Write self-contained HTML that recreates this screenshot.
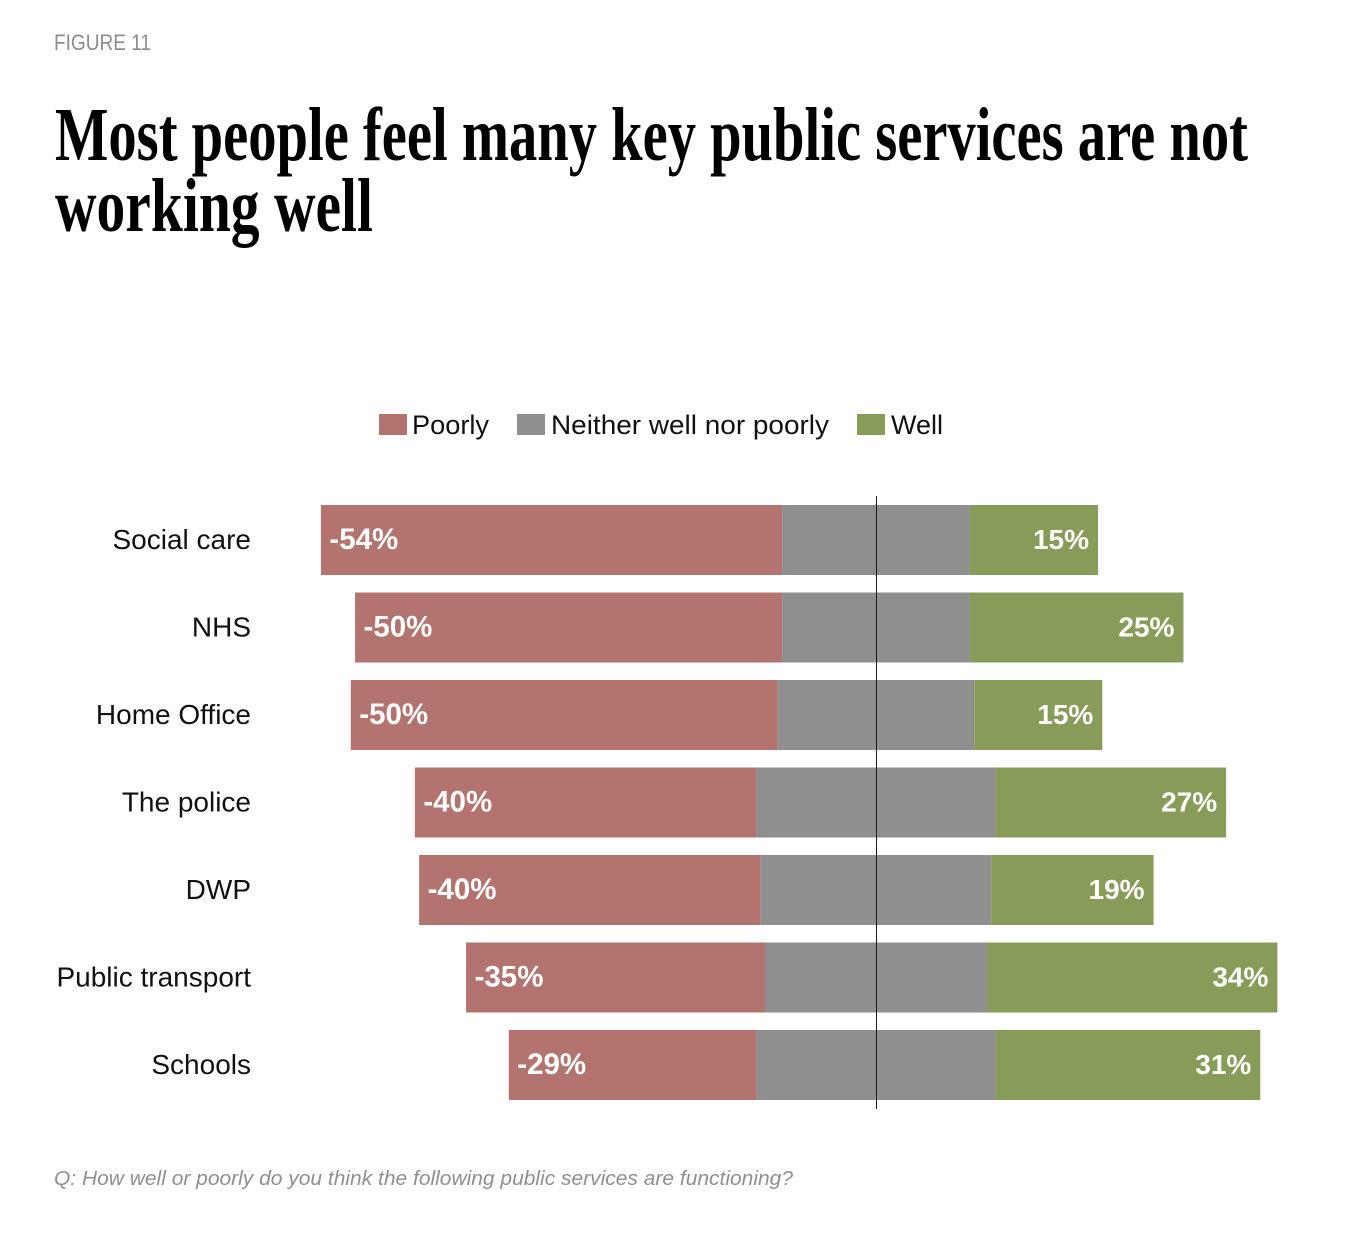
<!DOCTYPE html>
<html lang="en">
<head>
<meta charset="utf-8">
<title>Figure 11</title>
<style>
html,body{margin:0;padding:0;background:#fff;}
svg{display:block;}
</style>
</head>
<body>
<svg id="chart" width="1370" height="1244" viewBox="0 0 1370 1244" xmlns="http://www.w3.org/2000/svg" font-family="'Liberation Sans', sans-serif">
  <rect width="1370" height="1244" fill="#ffffff"/>
  <text x="54" y="50" font-size="22" fill="#8c8c8c" textLength="97" lengthAdjust="spacingAndGlyphs">FIGURE 11</text>
  <text x="55" y="160" font-family="'Liberation Serif', serif" font-weight="bold" font-size="76" fill="#000000" textLength="1193" lengthAdjust="spacingAndGlyphs">Most people feel many key public services are not</text>
  <text x="55" y="231" font-family="'Liberation Serif', serif" font-weight="bold" font-size="76" fill="#000000" textLength="318" lengthAdjust="spacingAndGlyphs">working well</text>

  <g>
    <rect x="379" y="414" width="28" height="21" fill="#b3746f"/>
    <text x="412" y="434" font-size="27" fill="#111111" textLength="77" lengthAdjust="spacingAndGlyphs">Poorly</text>
    <rect x="517" y="414" width="28" height="21" fill="#8f8f8f"/>
    <text x="551" y="434" font-size="27" fill="#111111" textLength="278" lengthAdjust="spacingAndGlyphs">Neither well nor poorly</text>
    <rect x="857" y="414" width="28" height="21" fill="#879c58"/>
    <text x="891" y="434" font-size="27" fill="#111111" textLength="52" lengthAdjust="spacingAndGlyphs">Well</text>
  </g>

  <g id="rows"></g>

  <text x="54" y="1185" font-size="20" font-style="italic" fill="#8f8f8f" textLength="739" lengthAdjust="spacingAndGlyphs">Q: How well or poorly do you think the following public services are functioning?</text>
</svg>

<script>
const categories = ["Social care", "NHS", "Home Office", "The police", "DWP", "Public transport", "Schools"];
const poorly = [54, 50, 50, 40, 40, 35, 29];
const neither = [22, 22, 23, 28, 27, 26, 28];
const well = [15, 25, 15, 27, 19, 34, 31];

const NS = "http://www.w3.org/2000/svg";
const svg = document.getElementById("chart");
const rows = document.getElementById("rows");

const centerX = 876;
const pxPerPct = 8.54;
const firstRowTop = 505;
const rowStep = 87.5;
const barHeight = 70;

function xScale(v) { return centerX + v * pxPerPct; }
function yScale(i) { return firstRowTop + i * rowStep; }

function makeRect(x, y, w, h, fill) {
  const r = document.createElementNS(NS, "rect");
  r.setAttribute("x", x);
  r.setAttribute("y", y);
  r.setAttribute("width", w);
  r.setAttribute("height", h);
  r.setAttribute("fill", fill);
  return r;
}

function makeText(x, y, str, size, fill, anchor, weight) {
  const t = document.createElementNS(NS, "text");
  t.setAttribute("x", x);
  t.setAttribute("y", y);
  t.setAttribute("font-size", size);
  t.setAttribute("fill", fill);
  t.setAttribute("text-anchor", anchor);
  t.setAttribute("font-weight", weight);
  t.textContent = str;
  return t;
}

categories.forEach(function (cat, i) {
  const y = yScale(i);
  const mid = y + barHeight / 2 + 9;
  const nLeft = xScale(-neither[i] / 2);
  const nRight = xScale(neither[i] / 2);
  const pLeft = nLeft - poorly[i] * pxPerPct;
  const wRight = nRight + well[i] * pxPerPct;

  const label = makeText(251, mid, cat, 28, "#111111", "end", "normal");
  
  
  rows.appendChild(label);

  const barP = makeRect(pLeft, y, nLeft - pLeft, barHeight, "#b3746f");
  
  
  rows.appendChild(barP);

  const barN = makeRect(nLeft, y, nRight - nLeft, barHeight, "#8f8f8f");
  
  
  rows.appendChild(barN);

  const barW = makeRect(nRight, y, wRight - nRight, barHeight, "#879c58");
  
  
  rows.appendChild(barW);

  const valP = makeText(pLeft + 8.5, mid, "-" + poorly[i] + "%", 29.5, "#ffffff", "start", "bold");
  
  
  rows.appendChild(valP);

  const valW = makeText(wRight - 9, mid, well[i] + "%", 28, "#ffffff", "end", "bold");
  
  
  rows.appendChild(valW);
});

const axis = document.createElementNS(NS, "line");
axis.setAttribute("x1", centerX + 0.5);
axis.setAttribute("x2", centerX + 0.5);
axis.setAttribute("y1", 496);
axis.setAttribute("y2", 1109);
axis.setAttribute("stroke", "#1a1a1a");
axis.setAttribute("stroke-width", 1);


svg.appendChild(axis);
</script>
</body>
</html>
